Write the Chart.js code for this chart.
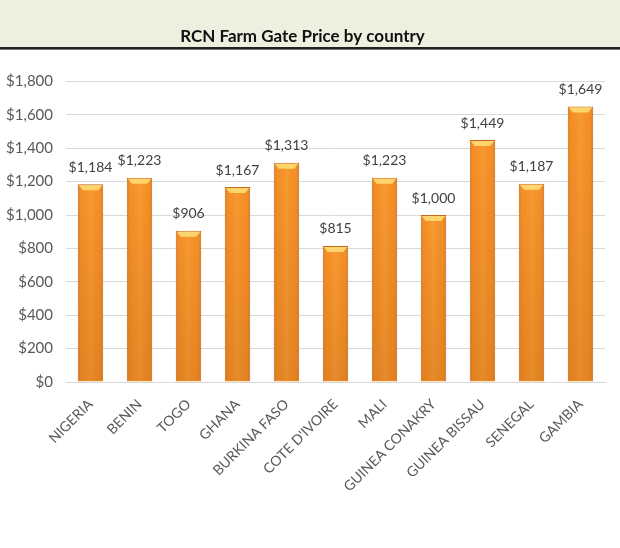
<!DOCTYPE html>
<html>
<head>
<meta charset="utf-8">
<script src="https://cdn.jsdelivr.net/npm/chart.js@4"></script>
<style>
  html, body { margin: 0; padding: 0; background: #fff; }
  #wrap { width: 620px; height: 548px; }
</style>
</head>
<body>
<div id="wrap"><canvas id="priceChart" width="620" height="548"></canvas></div>
<script>
const countries = ['NIGERIA', 'BENIN', 'TOGO', 'GHANA', 'BURKINA FASO', "COTE D'IVOIRE",
  'MALI', 'GUINEA CONAKRY', 'GUINEA BISSAU', 'SENEGAL', 'GAMBIA']
const prices = [1184, 1223, 906, 1167, 1313, 815, 1223, 1000, 1449, 1187, 1649]
const yTicks = [0, 200, 400, 600, 800, 1000, 1200, 1400, 1600, 1800]

const fontName = 'Lato, "Open Sans", sans-serif'

function money(v) {
  return '$' + v.toLocaleString('en-US')
}

// green band + dark rule behind the title
const headerBand = {
  id: 'headerBand',
  beforeDraw(chart) {
    const c = chart.ctx
    c.save()
    c.fillStyle = '#ffffff'
    c.fillRect(0, 0, chart.width, chart.height)
    c.fillStyle = '#ebf1de'
    c.fillRect(0, 0, chart.width, 47)
    c.fillStyle = '#222'
    c.fillRect(0, 47, chart.width, 2)
    c.fillStyle = '#777'
    c.fillRect(0, 49, chart.width, 1)
    c.restore()
  }
}

// shading on each bar and the value labels
const barShine = {
  id: 'barShine',
  afterDatasetsDraw(chart) {
    const c = chart.ctx
    const meta = chart.getDatasetMeta(0)
    c.save()
    meta.data.forEach((bar, i) => {
      const p = bar.getProps(['x', 'y', 'base', 'width'], true)
      const left = p.x - p.width / 2
      const g = c.createLinearGradient(left, 0, left + p.width, 0)
      g.addColorStop(0, 'rgba(150,70,0,0.35)')
      g.addColorStop(0.15, 'rgba(255,160,60,0.0)')
      g.addColorStop(0.5, 'rgba(255,190,90,0.25)')
      g.addColorStop(0.85, 'rgba(255,160,60,0.0)')
      g.addColorStop(1, 'rgba(150,70,0,0.4)')
      c.fillStyle = g
      c.fillRect(left + 1, p.y + 1, p.width - 2, p.base - p.y - 2)
      // a little darker toward the base
      const v = c.createLinearGradient(0, p.y, 0, p.base)
      v.addColorStop(0, 'rgba(120,50,0,0)')
      v.addColorStop(1, 'rgba(120,50,0,0.15)')
      c.fillStyle = v
      c.fillRect(left + 1, p.y + 1, p.width - 2, p.base - p.y - 2)
      // light cap on top
      c.fillStyle = 'rgba(255,225,120,0.85)'
      c.beginPath()
      c.moveTo(left + 1, p.y + 1)
      c.lineTo(left + p.width - 1, p.y + 1)
      c.lineTo(left + p.width - 5, p.y + 6)
      c.lineTo(left + 5, p.y + 6)
      c.closePath()
      c.fill()

      c.fillStyle = '#404040'
      c.font = '14px ' + fontName
      c.textAlign = 'center'
      c.textBaseline = 'bottom'
      c.fillText(money(prices[i]), p.x, p.y - 10)
    })
    c.restore()
  }
}

const ctx = document.getElementById('priceChart').getContext('2d')
const priceChart = new Chart(ctx, {
  type: 'bar',
  data: {
    labels: countries,
    datasets: [{
      label: 'RCN Farm Gate Price',
      data: prices,
      backgroundColor: '#f58f26',
      borderColor: '#c4661b',
      borderWidth: 1,
      barPercentage: 0.52,
      categoryPercentage: 1
    }]
  },
  options: {
    responsive: false,
    animation: false,
    layout: { padding: { left: 0, right: 15, top: 0, bottom: 47 } },
    plugins: {
      legend: { display: false },
      tooltip: { enabled: false },
      title: {
        display: true,
        text: 'RCN Farm Gate Price by country',
        color: '#111',
        font: { family: fontName, size: 17, weight: 'bold' },
        padding: { top: 26, bottom: 35 }
      }
    },
    scales: {
      y: {
        min: 0,
        max: 1800,
        afterBuildTicks(axis) {
          axis.ticks = yTicks.map(v => ({ value: v }))
        },
        afterFit(axis) {
          axis.width = 66
        },
        border: { display: false },
        grid: { color: '#d9d9d9', drawTicks: false },
        ticks: {
          color: '#595959',
          padding: 13,
          font: { family: fontName, size: 15 },
          callback: v => money(v)
        }
      },
      x: {
        border: { color: '#d9d9d9' },
        grid: { display: false },
        ticks: {
          color: '#595959',
          minRotation: 45,
          maxRotation: 45,
          padding: 6,
          font: { family: fontName, size: 14 }
        }
      }
    }
  },
  plugins: [headerBand, barShine]
})
</script>
</body>
</html>
